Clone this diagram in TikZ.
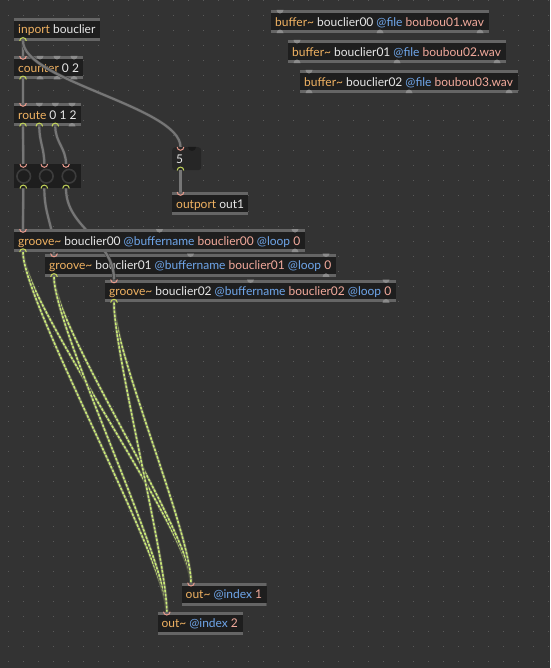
\documentclass[tikz,border=0pt]{standalone}
\usepackage{fontspec}
\setmainfont{Lato}
\definecolor{bgc}{HTML}{333333}
\definecolor{dotc}{HTML}{5A5A5A}
\definecolor{bodyc}{HTML}{1E1E1E}
\definecolor{barc}{HTML}{656565}
\definecolor{bumpc}{HTML}{8C8C8C}
\definecolor{inc}{HTML}{E89A8C}
\definecolor{outc}{HTML}{C4D65A}
\definecolor{clsc}{HTML}{F0B262}
\definecolor{argc}{HTML}{E6E6E6}
\definecolor{atrc}{HTML}{6FA6EA}
\definecolor{valc}{HTML}{F3AA9C}
\definecolor{ctlout}{HTML}{3E3E3E}
\definecolor{ctlin}{HTML}{767676}
\definecolor{sigout}{HTML}{4A4C40}
\definecolor{sigin}{HTML}{85886E}
\definecolor{sigdash}{HTML}{CBEE74}
\definecolor{numc}{HTML}{262626}
\definecolor{notchc}{HTML}{1A1A1A}
\definecolor{ringc}{HTML}{3C3C3C}
\newcommand\tcls[1]{\textcolor{clsc}{#1}}
\newcommand\targ[1]{\textcolor{argc}{#1}}
\newcommand\tatr[1]{\textcolor{atrc}{#1}}
\newcommand\tval[1]{\textcolor{valc}{#1}}
\newcommand\mobj[6]{\node[maxobj, minimum width=#4pt, minimum height=#5pt] (#1) at (#2,#3) {\makebox[\dimexpr#4pt-8pt\relax][l]{#6}};}
\newcommand\pin[2]{\draw[inc, line width=1pt] ([xshift={#2pt-3.3pt}]#1.north west) arc[start angle=180,end angle=360,radius=3.3pt];}
\newcommand\pout[2]{\draw[outc, line width=1pt] ([xshift={#2pt-3.3pt}]#1.south west) arc[start angle=180,end angle=0,radius=3.3pt];}
\newcommand\btop[2]{\fill[bumpc] ([xshift={#2pt-3.5pt}]#1.north west) arc[start angle=180,end angle=360,radius=3.5pt] -- cycle;}
\newcommand\bbot[2]{\fill[bumpc] ([xshift={#2pt-3.5pt}]#1.south west) arc[start angle=180,end angle=0,radius=3.5pt] -- cycle;}
\newcommand\sig[2]{\draw[sigbase] (#1) .. controls +(0,50) and +(0,-50) .. (#2);
  \draw[sigtop] (#1) .. controls +(0,50) and +(0,-50) .. (#2);}
\pgfdeclarelayer{bgl}
\pgfdeclarelayer{cordl}
\pgfdeclarelayer{frontl}
\pgfsetlayers{bgl,main,cordl,frontl}
\begin{document}
\begin{tikzpicture}[x=1pt,y=-1pt,
  every node/.style={font=\fontsize{12}{14}\selectfont},
  maxobj/.style={draw=none, fill=bodyc, inner xsep=4pt, inner ysep=0pt,
    text height=10.5pt, text depth=1.5pt, anchor=north west,
    path picture={\fill[barc] (path picture bounding box.north west) rectangle ([yshift=-3pt]path picture bounding box.north east);
      \fill[barc] (path picture bounding box.south west) rectangle ([yshift=3pt]path picture bounding box.south east);}},
  ctl/.style={draw=ctlout, double=ctlin, double distance=2.2pt, line width=0.6pt},
  sigbase/.style={draw=sigout, double=sigin, double distance=1.8pt, line width=0.8pt},
  sigtop/.style={draw=sigdash, line width=1.5pt, dash pattern=on 2.4pt off 1.6pt}]
\useasboundingbox (0,0) rectangle (550,668);
\begin{pgfonlayer}{bgl}
\fill[bgc] (0,0) rectangle (550,668);
\foreach \i in {0,...,36} \foreach \j in {0,...,44} \fill[dotc] (7.5+15*\i, 0.5+15*\j) rectangle ++(1,1);
\end{pgfonlayer}
% objects
\mobj{inport}{14}{18}{86}{22.5}{\tcls{inport} \targ{bouclier}}
\mobj{counter}{14}{56}{69}{23}{\tcls{counter} \targ{0 2}}
\mobj{route}{14}{103}{67}{23}{\tcls{route} \targ{0 1 2}}
\node[draw=none, fill=bodyc, minimum width=67pt, minimum height=24pt, inner sep=0pt, anchor=north west] (radio) at (14,164) {};
\foreach \cx in {9.7,32.3,55} \draw[ringc, line width=1.6pt] ([xshift=\cx pt]radio.west) circle[radius=6.8pt];
\node[draw=none, fill=numc, rounded corners=3pt, minimum width=29pt, minimum height=23pt, inner xsep=4pt, inner ysep=0pt, text height=10.5pt, text depth=1.5pt, anchor=north west] (num) at (172,147) {\makebox[21pt][l]{\targ{5}}};
\mobj{outport}{172}{192}{76}{22.7}{\tcls{outport} \targ{out1}}
\mobj{buf0}{271}{10}{218}{22.7}{\tcls{buffer\textasciitilde} \targ{bouclier00} \tatr{@file} \tval{boubou01.wav}}
\mobj{buf1}{288}{40}{218}{22.7}{\tcls{buffer\textasciitilde} \targ{bouclier01} \tatr{@file} \tval{boubou02.wav}}
\mobj{buf2}{300}{70}{218}{22.7}{\tcls{buffer\textasciitilde} \targ{bouclier02} \tatr{@file} \tval{boubou03.wav}}
\mobj{g1}{45}{253.5}{291}{23}{\tcls{groove\textasciitilde} \targ{bouclier01} \tatr{@buffername} \tval{bouclier01} \tatr{@loop} \tval{0}}
\mobj{g2}{105}{279.5}{291}{22.7}{\tcls{groove\textasciitilde} \targ{bouclier02} \tatr{@buffername} \tval{bouclier02} \tatr{@loop} \tval{0}}
\mobj{out1}{181.5}{582.7}{85}{22.7}{\tcls{out\textasciitilde} \tatr{@index} \tval{1}}
\mobj{out2}{157.3}{611.7}{85.4}{23}{\tcls{out\textasciitilde} \tatr{@index} \tval{2}}
\begin{pgfonlayer}{frontl}
\mobj{g0}{14}{229}{291}{22.7}{\tcls{groove\textasciitilde} \targ{bouclier00} \tatr{@buffername} \tval{bouclier00} \tatr{@loop} \tval{0}}
\end{pgfonlayer}
% port coordinates
\coordinate (inport-o) at ([xshift=9pt]inport.south west);
\coordinate (counter-i) at ([xshift=9pt]counter.north west);
\coordinate (counter-o) at ([xshift=9pt]counter.south west);
\coordinate (route-i) at ([xshift=9pt]route.north west);
\coordinate (route-o0) at ([xshift=9pt]route.south west);
\coordinate (route-o1) at ([xshift=25.3pt]route.south west);
\coordinate (route-o2) at ([xshift=41.3pt]route.south west);
\coordinate (radio-i0) at ([xshift=9.3pt]radio.north west);
\coordinate (radio-i1) at ([xshift=30.3pt]radio.north west);
\coordinate (radio-i2) at ([xshift=52pt]radio.north west);
\coordinate (radio-o0) at ([xshift=9.3pt]radio.south west);
\coordinate (radio-o1) at ([xshift=30.3pt]radio.south west);
\coordinate (radio-o2) at ([xshift=52pt]radio.south west);
\coordinate (num-i) at ([xshift=8.5pt]num.north west);
\coordinate (num-o) at ([xshift=8.5pt]num.south west);
\coordinate (outport-i) at ([xshift=8.5pt]outport.north west);
\coordinate (g0-i) at ([xshift=9pt]g0.north west);
\coordinate (g0-o) at ([xshift=9pt]g0.south west);
\coordinate (g1-i) at ([xshift=9pt]g1.north west);
\coordinate (g1-o) at ([xshift=9pt]g1.south west);
\coordinate (g2-i) at ([xshift=9pt]g2.north west);
\coordinate (g2-o) at ([xshift=9pt]g2.south west);
\coordinate (out1-i) at ([xshift=9.5pt]out1.north west);
\coordinate (out2-i) at ([xshift=9.5pt]out2.north west);
% cords
\begin{pgfonlayer}{cordl}
\draw[ctl] (inport-o) -- (counter-i);
\draw[ctl] (inport-o) .. controls +(0,40) and +(0,-40) .. (num-i);
\draw[ctl] (counter-o) -- (route-i);
\draw[ctl] (route-o0) -- (radio-i0);
\draw[ctl] (route-o1) .. controls +(0,16) and +(0,-16) .. (radio-i1);
\draw[ctl] (route-o2) .. controls +(0,16) and +(0,-16) .. (radio-i2);
\draw[ctl] (radio-o0) -- (g0-i);
\draw[ctl] (radio-o1) .. controls +(0,28) and +(0,-28) .. (g1-i);
\draw[ctl] (radio-o2) .. controls +(0,40) and +(0,-40) .. (g2-i);
\draw[ctl] (num-o) -- (outport-i);
\sig{g0-o}{out1-i}
\sig{g0-o}{out2-i}
\sig{g1-o}{out1-i}
\sig{g1-o}{out2-i}
\sig{g2-o}{out1-i}
\sig{g2-o}{out2-i}
\end{pgfonlayer}
% ports
\begin{pgfonlayer}{frontl}
\pout{inport}{9}
\pin{counter}{9} \btop{counter}{26} \btop{counter}{43} \btop{counter}{60}
\pout{counter}{9} \bbot{counter}{26} \bbot{counter}{43} \bbot{counter}{60}
\pin{route}{9} \btop{route}{25.3} \btop{route}{41.3} \btop{route}{58}
\pout{route}{9} \pout{route}{25.3} \pout{route}{41.3} \bbot{route}{58}
\pin{radio}{9.3} \pin{radio}{30.3} \pin{radio}{52}
\pout{radio}{9.3} \pout{radio}{30.3} \pout{radio}{52}
\fill[notchc] ([xshift=16pt]num.north west) arc[start angle=180,end angle=360,radius=4pt] -- cycle;
\pin{num}{8.5} \pout{num}{8.5}
\pin{outport}{8.5}
\foreach \b in {buf0,buf1,buf2} {\btop{\b}{9} \bbot{\b}{9} \bbot{\b}{109} \bbot{\b}{209}}
\foreach \g in {g0,g1,g2} {\pin{\g}{9} \btop{\g}{145.5} \btop{\g}{281} \pout{\g}{9} \bbot{\g}{281}}
\pin{out1}{9.5} \pin{out2}{9.5}
\end{pgfonlayer}
\end{tikzpicture}
\end{document}
